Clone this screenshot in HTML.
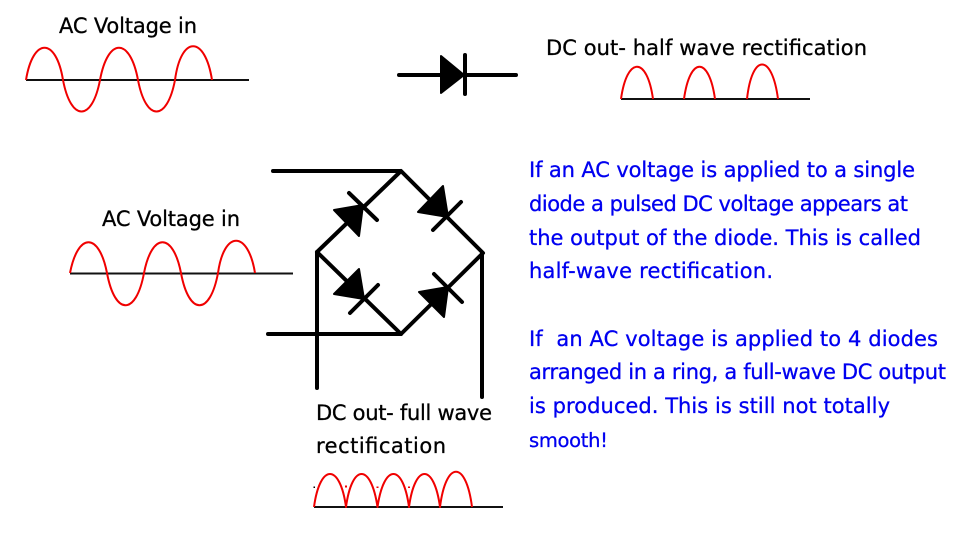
<!DOCTYPE html>
<html>
<head>
<meta charset="utf-8">
<style>
html,body{margin:0;padding:0;background:#fff;width:972px;height:555px;overflow:hidden}
svg{display:block}
text{font-family:"DejaVu Sans","Liberation Sans",sans-serif;font-size:21px;stroke-width:.3px}
.k{fill:#000;stroke:#000}
.b{fill:#0000f0;stroke:#0000f0}
.w{fill:none;stroke:#f00000;stroke-width:2;stroke-linejoin:round}
.a{fill:none;stroke:#111;stroke-width:2}
.d{fill:none;stroke:#000;stroke-width:4;stroke-linecap:round;stroke-linejoin:round}
.t{fill:#000;stroke:#000;stroke-width:2;stroke-linejoin:round}
</style>
</head>
<body>
<svg width="972" height="555" viewBox="0 0 972 555" xmlns="http://www.w3.org/2000/svg">
<rect width="972" height="555" fill="#fff"/>

<!-- top-left AC wave -->
<line class="a" x1="26" y1="80" x2="249" y2="80"/>
<path class="w" d="M26 80C33 37 56 37 63 80C71 122 92 122 100 80C108 37 130 37 138 80C146 122 167 122 175 80C181 35 205 35 212 80"/>

<!-- second AC wave -->
<line class="a" x1="70" y1="273.5" x2="293" y2="273.5"/>
<path class="w" d="M70 273C78 232 99 232 107 273C115 316 136 316 144 273C152 232 173 232 181 273C189 316 210 316 218 273C224 230 248 230 255 273"/>

<!-- half wave -->
<line class="a" x1="621" y1="99" x2="810" y2="99"/>
<path class="w" d="M621 99C627 56 647 56 653 99M684 99C690 56 709 56 715 99M747 99C752 53 772 53 778 99"/>

<!-- full wave -->
<line class="a" x1="314" y1="507" x2="503" y2="507"/>
<path class="w" d="M314 507C320 463 340 463 346 507C352 463 371 463 377.5 507C384 463 403 463 409 507C415 463 434 463 440 507C446 460 466 460 472 507"/>
<rect x="313.500" y="486.500" width="1.500" height="1.500" fill="#000"/>
<rect x="345" y="485.500" width="2" height="2" fill="#f00000"/>
<rect x="376.500" y="486.500" width="2" height="1.500" fill="#f00000"/>
<rect x="408" y="486.500" width="2" height="1.500" fill="#f00000"/>

<!-- single diode -->
<line class="d" x1="399" y1="75" x2="516" y2="75"/>
<polygon class="t" points="441,56 441,93 464,75"/>
<line class="d" x1="465" y1="55" x2="465" y2="94"/>

<!-- bridge wires -->
<path class="d" d="M273 171H401L483 253L401 334L317 252L401 171"/>
<path class="d" d="M268 334H401"/>
<path class="d" d="M317 252V388"/>
<path class="d" d="M482 253V397"/>

<!-- bridge diodes -->
<polygon class="t" points="334,210 363,205 359,236"/>
<line class="d" x1="349" y1="193" x2="377" y2="220"/>
<polygon class="t" points="418,212 443,186 448,217"/>
<line class="d" x1="461" y1="202" x2="433" y2="230"/>
<polygon class="t" points="334,294 359,269 364,299"/>
<line class="d" x1="378" y1="285" x2="350" y2="313"/>
<polygon class="t" points="419,292 448,287 444,317"/>
<line class="d" x1="434" y1="274" x2="462" y2="302"/>

<!-- black labels -->
<text class="k" x="59" y="33" textLength="138">AC Voltage in</text>
<text class="k" x="546" y="55" textLength="321">DC out- half wave rectification</text>
<text class="k" x="102" y="226" textLength="138">AC Voltage in</text>
<text class="k" x="316" y="420" textLength="176">DC out- full wave</text>
<text class="k" x="316" y="453" textLength="130">rectification</text>

<!-- blue paragraph -->
<text class="b" x="529" y="177" textLength="386">If an AC voltage is applied to a single</text>
<text class="b" x="529" y="211" textLength="379">diode a pulsed DC voltage appears at</text>
<text class="b" x="529" y="245" textLength="392">the output of the diode. This is called</text>
<text class="b" x="529" y="278" textLength="244">half-wave rectification.</text>
<text class="b" x="529" y="346" textLength="409" xml:space="preserve">If  an AC voltage is applied to 4 diodes</text>
<text class="b" x="529" y="379" textLength="417">arranged in a ring, a full-wave DC output</text>
<text class="b" x="529" y="413" textLength="361">is produced. This is still not totally</text>
<text class="b" x="529" y="447" style="font-size:19.5px" textLength="79">smooth!</text>
</svg>
</body>
</html>
